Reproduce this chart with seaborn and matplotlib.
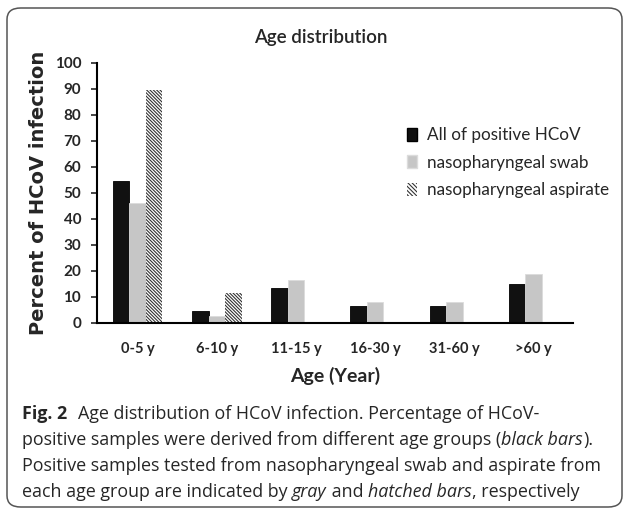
import numpy as np
import pandas as pd
import matplotlib
matplotlib.use("Agg")
import matplotlib.pyplot as plt
from matplotlib.patches import Patch, FancyBboxPatch
import seaborn as sns

# values (percent)
AGE_GROUPS = ["0-5 y", "6-10 y", "11-15 y", "16-30 y", "31-60 y", ">60 y"]
SERIES = ["All of positive HCoV", "nasopharyngeal swab", "nasopharyngeal aspirate"]
all_positive = [54.7, 4.6, 13.2, 6.4, 6.4, 15.0]
swab = [46.0, 2.5, 16.5, 8.0, 8.0, 18.8]
aspirate = [89.6, 11.3, np.nan, np.nan, np.nan, np.nan]
Y_TICKS = [0, 10, 20, 30, 40, 50, 60, 70, 80, 90, 100]

COLORS = ["#111111", "#c6c6c6", "#ffffff"]
HATCH = "\\" * 10


def build_df():
    rows = []
    for series, vals in zip(SERIES, [all_positive, swab, aspirate]):
        for age, v in zip(AGE_GROUPS, vals):
            rows.append({"age": age, "series": series, "pct": v})
    return pd.DataFrame(rows)


df = build_df()

sns.set_style("white")
plt.rcParams["hatch.linewidth"] = 0.8
plt.rcParams["hatch.color"] = "#222222"

W, H = 626, 515
fig = plt.figure(figsize=(W / 100, H / 100), dpi=100)
ax = fig.add_axes([96.5 / W, 1 - 322.7 / H, (573 - 96.5) / W, (322.7 - 63) / H])

sns.barplot(data=df, x="age", y="pct", hue="series", order=AGE_GROUPS,
            hue_order=SERIES, palette=COLORS, width=0.625, gap=0,
            errorbar=None, ax=ax, legend=False, saturation=1)

# style the three series
for i, cont in enumerate(ax.containers):
    for bar in cont:
        if i == 0:
            bar.set_edgecolor("#000000")
            bar.set_linewidth(0.6)
        elif i == 1:
            bar.set_edgecolor("#dcdcdc")
            bar.set_linewidth(0.6)
        else:
            bar.set_facecolor("white")
            bar.set_edgecolor("#333333")
            bar.set_hatch(HATCH)
            bar.set_linewidth(0)

ax.set_xlim(-0.52, 5.5)
ax.set_ylim(0, 100)
ax.set_yticks(Y_TICKS)
ax.set_yticklabels([str(t) for t in Y_TICKS], fontfamily="Lato",
                   fontweight="bold", fontsize=11)
ax.set_xticklabels(AGE_GROUPS, fontfamily="Lato", fontweight="bold", fontsize=10.5)
ax.tick_params(axis="y", direction="out", length=4, width=1.2, pad=7, left=True)
ax.tick_params(axis="x", length=0, pad=14)
for s in ["top", "right"]:
    ax.spines[s].set_visible(False)
for s in ["left", "bottom"]:
    ax.spines[s].set_color("black")
    ax.spines[s].set_linewidth(1.5)

ax.set_xlabel("Age (Year)", fontfamily="Lato", fontweight="bold", fontsize=14, labelpad=8)
ax.set_ylabel("Percent of HCoV infection", fontfamily="DejaVu Sans",
              fontweight="bold", fontsize=14, labelpad=5)
fig.text(321 / W, 1 - 38 / H, "Age distribution", fontfamily="Lato", fontsize=13.5,
         fontweight="semibold", ha="center", va="center")

handles = [Patch(facecolor=COLORS[0], edgecolor="#000000"),
           Patch(facecolor=COLORS[1], edgecolor="#dcdcdc"),
           Patch(facecolor="white", edgecolor="#333333", hatch="\\" * 8, linewidth=0)]
fig.legend(handles, SERIES, loc="upper left", bbox_to_anchor=(407 / W, 1 - 127 / H),
           frameon=False, prop={"family": "Lato", "size": 12.3}, handlelength=0.6,
           handleheight=0.8, handletextpad=0.55, labelspacing=0.68, borderpad=0,
           borderaxespad=0)

# caption, written piece by piece so bold / italic runs follow each other
cap_font = {"family": "Open Sans", "size": 12.9}
x0 = 22
baselines = [419, 445, 471, 497]
fig.canvas.draw()
r = fig.canvas.get_renderer()


def write_line(y, pieces):
    x = x0
    for txt, kw in pieces:
        t = fig.text(x / W, 1 - y / H, txt, va="baseline", **cap_font, **kw)
        x = t.get_window_extent(r).x1
        if txt == "Fig. 2":
            x += 11


write_line(baselines[0], [("Fig. 2", {"fontweight": "bold"}),
                          ("Age distribution of HCoV infection. Percentage of HCoV-", {})])
write_line(baselines[1], [("positive samples were derived from different age groups (", {}),
                          ("black bars", {"style": "italic"}), (").", {})])
write_line(baselines[2], [("Positive samples tested from nasopharyngeal swab and aspirate from", {})])
write_line(baselines[3], [("each age group are indicated by ", {}), ("gray", {"style": "italic"}),
                          (" and ", {}), ("hatched bars", {"style": "italic"}),
                          (", respectively", {})])

# rounded frame around the panel
frame = FancyBboxPatch((7 / W, 8 / H), (622 - 7) / W, (507 - 8) / H,
                       boxstyle="round,pad=0,rounding_size=0.022",
                       transform=fig.transFigure, facecolor="none",
                       edgecolor="#555555", linewidth=1.1)
fig.patches.append(frame)

fig.savefig("out.png", dpi=100)
